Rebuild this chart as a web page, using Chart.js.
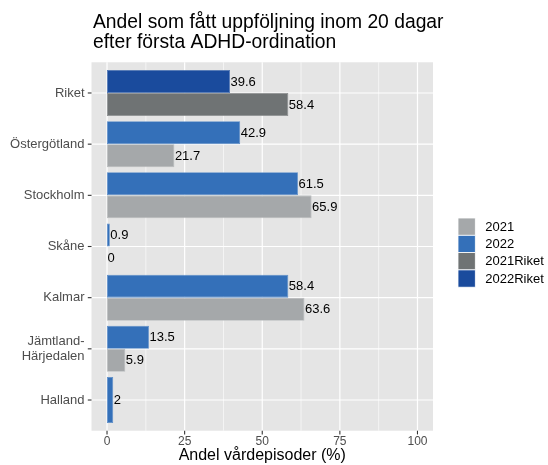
<!DOCTYPE html>
<html><head><meta charset="utf-8">
<script src="https://cdn.jsdelivr.net/npm/chart.js@4/dist/chart.umd.min.js"></script>
<style>html,body{margin:0;padding:0;background:#fff}#wrap{width:548px;height:465px;position:relative}</style>
</head><body><div id="wrap"><canvas id="c" width="548" height="465"></canvas></div>
<script>
const categories = ['Riket','Östergötland','Stockholm','Skåne','Kalmar',['Jämtland-','Härjedalen'],'Halland'];
const values2022 = [39.6, 42.9, 61.5, 0.9, 58.4, 13.5, 2];
const values2021 = [58.4, 21.7, 65.9, 0, 63.6, 5.9, null];
const xTicks = [0, 25, 50, 75, 100];
const minorTicks = [12.5, 37.5, 62.5, 87.5];
const legendLabels = ['2021', '2022', '2021Riket', '2022Riket'];
const titleLines = ['Andel som fått uppföljning inom 20 dagar', 'efter första ADHD-ordination'];
const xTitle = 'Andel vårdepisoder (%)';

const FAM = "'Liberation Sans', Arial, sans-serif";
const COL = {'2021':'#A5A8AA','2022':'#3470B9','2021Riket':'#6F7374','2022Riket':'#1A4B9D'};
const BORDER = {'2021':'#B9BCBD','2022':'#5A8CC8','2021Riket':'#8A8D8E','2022Riket':'#4A72B3'};

const panelPlugin = {
  id:'panel',
  beforeDraw(chart){
    const {ctx, scales:{x,y}} = chart;
    const step = y.getPixelForValue(1) - y.getPixelForValue(0);
    const top = y.getPixelForValue(0) - 0.6*step;
    const bot = y.getPixelForValue(categories.length-1) + 0.6*step;
    const left = x.getPixelForValue(-5), right = x.getPixelForValue(105);
    ctx.save();
    ctx.fillStyle = '#E5E5E5';
    ctx.fillRect(left, top, right-left, bot-top);
    ctx.strokeStyle = '#FFFFFF';
    ctx.lineWidth = 0.6;
    minorTicks.forEach(v=>{const px=x.getPixelForValue(v);ctx.beginPath();ctx.moveTo(px,top);ctx.lineTo(px,bot);ctx.stroke();});
    ctx.lineWidth = 1.2;
    xTicks.forEach(v=>{const px=x.getPixelForValue(v);ctx.beginPath();ctx.moveTo(px,top);ctx.lineTo(px,bot);ctx.stroke();});
    categories.forEach((c,i)=>{const py=y.getPixelForValue(i);ctx.beginPath();ctx.moveTo(left,py);ctx.lineTo(right,py);ctx.stroke();});
    ctx.strokeStyle = '#333333';
    ctx.lineWidth = 1.1;
    xTicks.forEach(v=>{const px=x.getPixelForValue(v);ctx.beginPath();ctx.moveTo(px,bot);ctx.lineTo(px,bot+3.7);ctx.stroke();});
    categories.forEach((c,i)=>{const py=y.getPixelForValue(i);ctx.beginPath();ctx.moveTo(left-3.7,py);ctx.lineTo(left,py);ctx.stroke();});
    ctx.restore();
  },
  afterDatasetsDraw(chart){
    const {ctx} = chart;
    ctx.save();
    ctx.font = '13px ' + FAM;
    ctx.fillStyle = '#000';
    ctx.textAlign = 'left';
    ctx.textBaseline = 'middle';
    chart.data.datasets.forEach((ds,di)=>{
      const meta = chart.getDatasetMeta(di);
      meta.data.forEach((el,i)=>{
        const v = ds.data[i];
        if (v === null || v === undefined) return;
        ctx.fillText(String(v), el.x + 0.5, el.y + 0.5);
      });
    });
    ctx.restore();
  },
  afterDraw(chart){
    const {ctx} = chart;
    ctx.save();
    ctx.fillStyle = '#000';
    ctx.textAlign = 'left';
    ctx.textBaseline = 'alphabetic';
    ctx.font = '19.3px ' + FAM;
    titleLines.forEach((t,i)=>ctx.fillText(t, 93, 27.7 + i*20));
    // legend
    const kx = 458, ky = 218, ks = 17.3;
    ctx.font = '13px ' + FAM;
    ctx.textBaseline = 'middle';
    legendLabels.forEach((l,i)=>{
      ctx.fillStyle = COL[l];
      ctx.fillRect(kx, ky + i*ks, ks, ks);
      ctx.strokeStyle = '#FFFFFF';
      ctx.lineWidth = 0.8;
      ctx.strokeRect(kx, ky + i*ks, ks, ks);
      ctx.fillStyle = '#000';
      ctx.fillText(l, kx + ks + 10, ky + i*ks + ks/2 + 0.5);
    });
    ctx.restore();
  }
};

new Chart(document.getElementById('c'), {
  type:'bar',
  data:{
    labels: categories,
    datasets:[
      {label:'2022', data: values2022,
       backgroundColor: c => c.dataIndex===0 ? COL['2022Riket'] : COL['2022'],
       borderColor: c => c.dataIndex===0 ? BORDER['2022Riket'] : BORDER['2022'],
       borderWidth: c => (c.raw ? 0.8 : 0), borderSkipped:false,
       categoryPercentage:0.9, barPercentage:1, skipNull:true},
      {label:'2021', data: values2021,
       backgroundColor: c => c.dataIndex===0 ? COL['2021Riket'] : COL['2021'],
       borderColor: c => c.dataIndex===0 ? BORDER['2021Riket'] : BORDER['2021'],
       borderWidth: c => (c.raw ? 0.8 : 0), borderSkipped:false,
       categoryPercentage:0.9, barPercentage:1, skipNull:true}
    ]
  },
  options:{
    indexAxis:'y',
    responsive:false,
    animation:false,
    devicePixelRatio:1,
    layout:{padding:{left:0,right:115,top:67.4,bottom:0}},
    plugins:{legend:{display:false},title:{display:false},tooltip:{enabled:false}},
    scales:{
      x:{type:'linear', min:-5, max:105,
        afterBuildTicks: s => { s.ticks = xTicks.map(v=>({value:v})); },
        grid:{display:false, drawTicks:false}, border:{display:false},
        ticks:{padding:9, color:'#4D4D4D', font:{size:12, family:FAM}, maxRotation:0, autoSkip:false},
        title:{display:true, text:xTitle, color:'#000', font:{size:16, family:FAM}, padding:{top:0,bottom:0}},
        afterFit: s => { s.height = 39.4; }
      },
      y:{type:'category', offset:true,
        grid:{display:false, drawTicks:false}, border:{display:false},
        ticks:{padding:7, color:'#4D4D4D', font:{size:13, family:FAM}, autoSkip:false},
        afterFit: s => { s.width = 91.5; }
      }
    }
  },
  plugins:[panelPlugin]
});
</script></body></html>
